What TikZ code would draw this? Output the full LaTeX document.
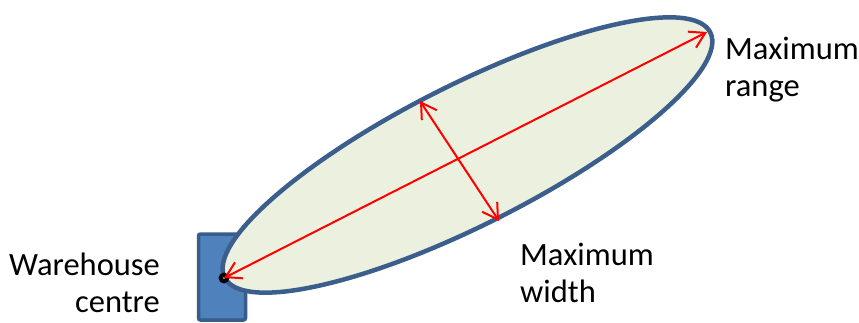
\documentclass[tikz,border=0pt]{standalone}
\usepackage{fontspec}
\setmainfont{Carlito}
\usetikzlibrary{shapes.geometric,arrows.meta}
\definecolor{ellfill}{HTML}{EBF1DE}
\definecolor{ellborder}{HTML}{3B5E8C}
\definecolor{boxfill}{HTML}{4F81BD}
\definecolor{boxborder}{HTML}{385D8A}
\tikzset{
  lbl/.style={inner sep=0pt, font=\fontsize{32.5}{37}\selectfont},
  measure/.style={draw=red, line width=2pt,
    arrows={Straight Barb[length=15pt,width=18pt]-Straight Barb[length=15pt,width=18pt]}},
}
\begin{document}
\begin{tikzpicture}[x=1pt,y=-1pt]
\useasboundingbox (0,0) rectangle (859,323);
% warehouse box
\node[draw=boxborder, fill=boxfill, line width=3.5pt, rounded corners=2pt,
      minimum width=47pt, minimum height=86pt, inner sep=0pt] (box) at (222,277) {};
% zone ellipse
\node[ellipse, draw=ellborder, fill=ellfill, line width=4.5pt, inner sep=0pt,
      minimum width=544pt, minimum height=140pt, rotate=26.8] (zone) at (467.5,155) {};
% warehouse centre dot
\node[circle, fill=black, inner sep=0pt, minimum size=11pt] (dot) at (224,278) {};
\fill[white] (dot.center) circle (0.9pt);
% arrow end points
\coordinate (far) at (707,32);
\coordinate (wtop) at (420,101);
\coordinate (wbot) at (499,221);
\draw[measure] (dot.center) -- (far);
\draw[measure] (wtop) -- (wbot);
% labels
\node[lbl, anchor=base west, align=left] (range) at (725,97) {Maximum\\range};
\node[lbl, anchor=base west, align=left] (width) at (520,302) {Maximum\\width};
\node[lbl, anchor=base east, align=right] (wh) at (160,312) {Warehouse\\centre};
\end{tikzpicture}
\end{document}
